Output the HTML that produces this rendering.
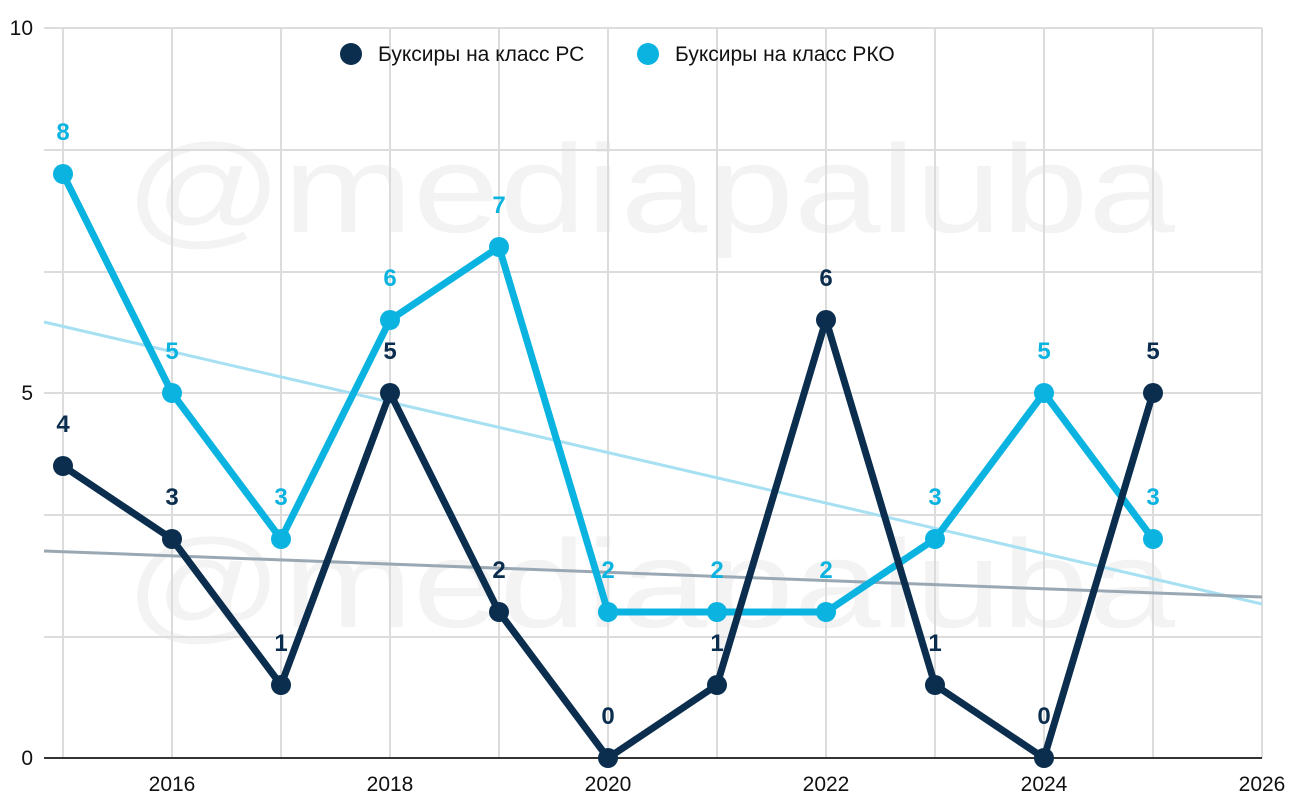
<!DOCTYPE html>
<html><head><meta charset="utf-8"><style>
body{margin:0;background:#fff}
svg{display:block;font-family:"Liberation Sans",Roboto,sans-serif}
</style></head><body>
<svg width="1300" height="809" viewBox="0 0 1300 809">
<g font-size="125" fill="#f3f3f3" font-family="Liberation Sans,sans-serif">
<text x="125" y="232" textLength="1050" lengthAdjust="spacingAndGlyphs">@mediapaluba</text>
<text x="125" y="627" textLength="1050" lengthAdjust="spacingAndGlyphs">@mediapaluba</text>
</g>
<g stroke="#dcdcdc" stroke-width="2">
<line x1="44" y1="28" x2="1262" y2="28"/><line x1="44" y1="150" x2="1262" y2="150"/>
<line x1="44" y1="272" x2="1262" y2="272"/><line x1="44" y1="393" x2="1262" y2="393"/>
<line x1="44" y1="515" x2="1262" y2="515"/><line x1="44" y1="637" x2="1262" y2="637"/>
<line x1="63" y1="28" x2="63" y2="758"/><line x1="172" y1="28" x2="172" y2="758"/>
<line x1="281" y1="28" x2="281" y2="758"/><line x1="390" y1="28" x2="390" y2="758"/>
<line x1="499" y1="28" x2="499" y2="758"/><line x1="608" y1="28" x2="608" y2="758"/>
<line x1="717" y1="28" x2="717" y2="758"/><line x1="826" y1="28" x2="826" y2="758"/>
<line x1="935" y1="28" x2="935" y2="758"/><line x1="1044" y1="28" x2="1044" y2="758"/>
<line x1="1153" y1="28" x2="1153" y2="758"/><line x1="1262" y1="28" x2="1262" y2="758"/>
</g>
<line x1="44" y1="758" x2="1262" y2="758" stroke="#333" stroke-width="2"/>
<g font-size="21" fill="#111">
<text x="33" y="35" text-anchor="end">10</text>
<text x="33" y="400" text-anchor="end">5</text>
<text x="33" y="765" text-anchor="end">0</text>
<g text-anchor="middle">
<text x="172" y="791">2016</text><text x="390" y="791">2018</text><text x="608" y="791">2020</text>
<text x="826" y="791">2022</text><text x="1044" y="791">2024</text><text x="1262" y="791">2026</text>
</g></g>
<line x1="44" y1="322" x2="1262" y2="604" stroke="#a6e0f2" stroke-width="3"/>
<line x1="44" y1="551" x2="1262" y2="597" stroke="#9aa8b4" stroke-width="3"/>
<polyline fill="none" stroke="#0bb3e0" stroke-width="7" stroke-linejoin="round" points="63,174 172,393 281,539 390,320 499,247 608,612 717,612 826,612 935,539 1044,393 1153,539"/>
<polyline fill="none" stroke="#0b2e4e" stroke-width="7" stroke-linejoin="round" points="63,466 172,539 281,685 390,393 499,612 608,758 717,685 826,320 935,685 1044,758 1153,393"/>
<g fill="#0bb3e0"><circle cx="63" cy="174" r="10"/><circle cx="172" cy="393" r="10"/><circle cx="281" cy="539" r="10"/><circle cx="390" cy="320" r="10"/><circle cx="499" cy="247" r="10"/><circle cx="608" cy="612" r="10"/><circle cx="717" cy="612" r="10"/><circle cx="826" cy="612" r="10"/><circle cx="935" cy="539" r="10"/><circle cx="1044" cy="393" r="10"/><circle cx="1153" cy="539" r="10"/></g>
<g fill="#0b2e4e"><circle cx="63" cy="466" r="10"/><circle cx="172" cy="539" r="10"/><circle cx="281" cy="685" r="10"/><circle cx="390" cy="393" r="10"/><circle cx="499" cy="612" r="10"/><circle cx="608" cy="758" r="10"/><circle cx="717" cy="685" r="10"/><circle cx="826" cy="320" r="10"/><circle cx="935" cy="685" r="10"/><circle cx="1044" cy="758" r="10"/><circle cx="1153" cy="393" r="10"/></g>
<g font-size="24" font-weight="bold" text-anchor="middle" fill="#0bb3e0">
<text x="63" y="140">8</text><text x="172" y="359">5</text><text x="281" y="505">3</text><text x="390" y="286">6</text><text x="499" y="213">7</text><text x="608" y="578">2</text><text x="717" y="578">2</text><text x="826" y="578">2</text><text x="935" y="505">3</text><text x="1044" y="359">5</text><text x="1153" y="505">3</text>
</g>
<g font-size="24" font-weight="bold" text-anchor="middle" fill="#0b2e4e">
<text x="63" y="432">4</text><text x="172" y="505">3</text><text x="281" y="651">1</text><text x="390" y="359">5</text><text x="499" y="578">2</text><text x="608" y="724">0</text><text x="717" y="651">1</text><text x="826" y="286">6</text><text x="935" y="651">1</text><text x="1044" y="724">0</text><text x="1153" y="359">5</text>
</g>
<circle cx="351" cy="54" r="11" fill="#0b2e4e"/>
<text x="378" y="61" font-size="21" fill="#111">Буксиры на класс РС</text>
<circle cx="648" cy="54" r="11" fill="#0bb3e0"/>
<text x="675" y="61" font-size="21" fill="#111">Буксиры на класс РКО</text>
</svg>
</body></html>
